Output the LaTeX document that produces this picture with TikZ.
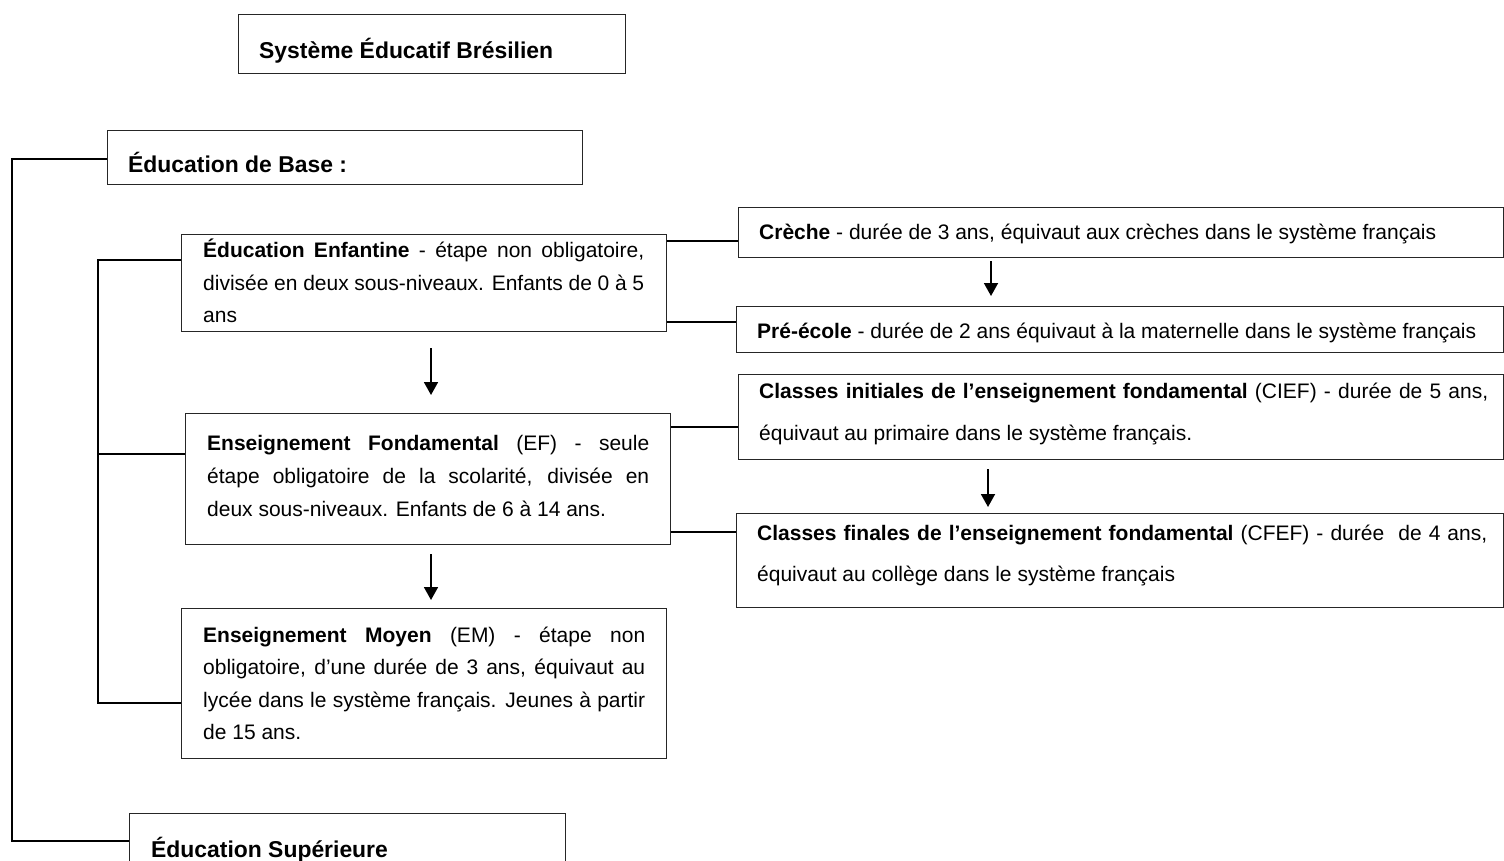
\documentclass[tikz,border=0pt]{standalone}
\usepackage{fontspec}
\setmainfont{Liberation Sans}
\usetikzlibrary{arrows.meta}
\newlength\JWidth
\newcommand\JLine[1]{\hbox{\makebox[\JWidth][s]{#1}}}
\newcommand\NLine[1]{\hbox{#1}}
\newcommand\ParaBlock[3]{\vtop{\JWidth=#1\relax\baselineskip=#2\relax #3}}
\begin{document}
\begin{tikzpicture}[x=1pt,y=-1pt,
  box/.style={draw=black!85, line width=1.4pt, rectangle, inner sep=0pt, anchor=north west},
  link/.style={line width=1.8pt, black},
  arr/.style={link, -{Triangle[width=14pt,length=13pt]}},
  txt/.style={anchor=base west, inner sep=0pt, font=\fontsize{21}{33}\selectfont},
  head/.style={anchor=base west, inner sep=0pt, font=\fontsize{22.9}{28}\selectfont\bfseries}]
\useasboundingbox (0,0) rectangle (1504,861);

% boxes
\node[box, minimum width=387pt, minimum height=59pt] (title) at (238,14) {};
\node[box, minimum width=475pt, minimum height=54pt] (edb) at (107,130) {};
\node[box, minimum width=485pt, minimum height=97pt] (ee) at (181,234) {};
\node[box, minimum width=485pt, minimum height=131pt] (ef) at (185,413) {};
\node[box, minimum width=485pt, minimum height=150pt] (em) at (181,608) {};
\node[box, minimum width=436pt, minimum height=80pt] (esup) at (129,813) {};
\node[box, minimum width=764.5pt, minimum height=50pt] (creche) at (738,207) {};
\node[box, minimum width=766.5pt, minimum height=46pt] (pre) at (736,306) {};
\node[box, minimum width=764.5pt, minimum height=85pt] (cief) at (738,374) {};
\node[box, minimum width=766.5pt, minimum height=94pt] (cfef) at (736,513) {};

% texts
\node[head] (title-t) at (259,59) {Système Éducatif Brésilien};
\node[head] (edb-t) at (128,173) {Éducation de Base :};
\node[head] (esup-t) at (151,857) {Éducation Supérieure};

\node[txt] (ee-t) at (203,257) {\ParaBlock{441pt}{33pt}{%
  \JLine{\textbf{Éducation Enfantine} - étape non obligatoire,}%
  \JLine{divisée en deux sous-niveaux. Enfants de 0 à 5}%
  \NLine{ans}}};
\node[txt] (ef-t) at (207,450) {\ParaBlock{442pt}{33pt}{%
  \JLine{\textbf{Enseignement Fondamental} (EF) - seule}%
  \JLine{étape obligatoire de la scolarité, divisée en}%
  \NLine{deux sous-niveaux. Enfants de 6 à 14 ans.}}};
\node[txt] (em-t) at (203,642) {\ParaBlock{442pt}{32.5pt}{%
  \JLine{\textbf{Enseignement Moyen} (EM) - étape non}%
  \JLine{obligatoire, d’une durée de 3 ans, équivaut au}%
  \JLine{lycée dans le système français. Jeunes à partir}%
  \NLine{de 15 ans.}}};
\node[txt] (creche-t) at (759,240) {\textbf{Crèche} - durée de 3 ans, équivaut aux crèches dans le système français};
\node[txt] (pre-t) at (757,338) {\textbf{Pré-école} - durée de 2 ans équivaut à la maternelle dans le système français};
\node[txt] (cief-t) at (759,398) {\ParaBlock{729pt}{42.5pt}{%
  \JLine{\textbf{Classes initiales de l’enseignement fondamental} (CIEF) - durée de 5 ans,}%
  \NLine{équivaut au primaire dans le système français.}}};
\node[txt] (cfef-t) at (757,540) {\ParaBlock{730pt}{41pt}{%
  \JLine{\textbf{Classes finales de l’enseignement fondamental} (CFEF) - durée\ \ de 4 ans,}%
  \NLine{équivaut au collège dans le système français}}};

% connectors
\draw[link] (edb.west |- 0,159) -| (12,841) -- (esup.west |- 0,841);
\draw[link] (ee.west |- 0,260) -| (98,703) -- (em.west |- 0,703);
\draw[link] (98,454) -- (ef.west |- 0,454);
\draw[link] (ee.east |- 0,241) -- (creche.west |- 0,241);
\draw[link] (ee.east |- 0,322) -- (pre.west |- 0,322);
\draw[link] (ef.east |- 0,427) -- (cief.west |- 0,427);
\draw[link] (ef.east |- 0,532) -- (cfef.west |- 0,532);

% arrows
\draw[arr, shorten <=16pt, shorten >=18pt] (ee.south -| 431,0) -- (ef.north -| 431,0);
\draw[arr, shorten <=9pt, shorten >=8pt] (ef.south -| 431,0) -- (em.north -| 431,0);
\draw[arr, shorten <=3pt, shorten >=10pt] (creche.south -| 991,0) -- (pre.north -| 991,0);
\draw[arr, shorten <=9pt, shorten >=6pt] (cief.south -| 988,0) -- (cfef.north -| 988,0);
\end{tikzpicture}
\end{document}
